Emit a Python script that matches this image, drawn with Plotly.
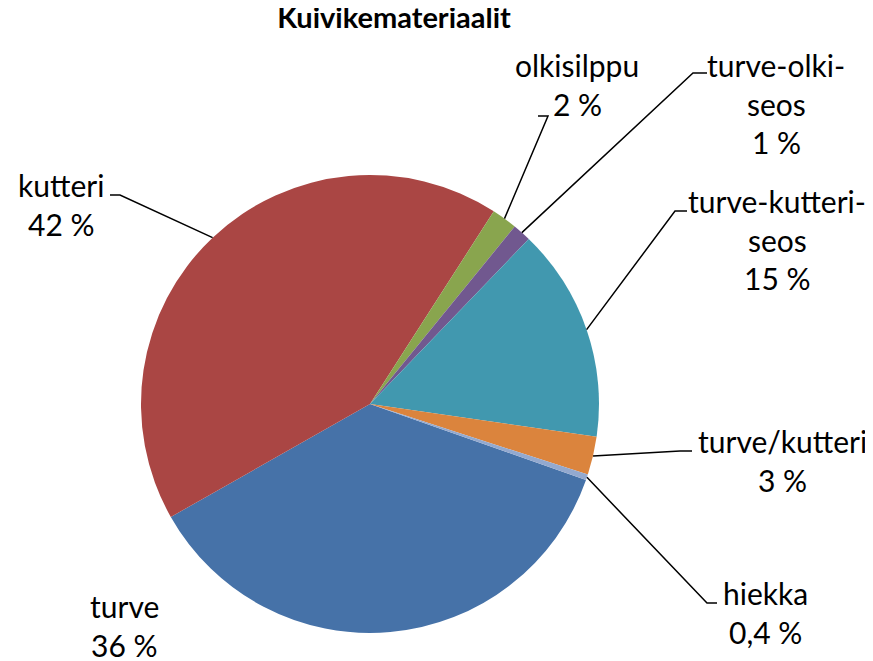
import numpy as np
import plotly.graph_objects as go

# the page body has an 8px margin, so the figure is a bit smaller and shifted
OFF = 8
W, H = 873 - OFF, 661 - OFF

# data (share of each bedding material, %)
labels = ['turve', 'kutteri', 'olkisilppu', 'turve-olki-seos',
          'turve-kutteri-seos', 'turve/kutteri', 'hiekka']
values = [36.4, 42.3, 1.8, 1.3, 15.1, 2.7, 0.4]
pct_text = ['36 %', '42 %', '2 %', '1 %', '15 %', '3 %', '0,4 %']
name_lines = [['turve'], ['kutteri'], ['olkisilppu'], ['turve-olki-', 'seos'],
              ['turve-kutteri-', 'seos'], ['turve/kutteri'], ['hiekka']]
colors = ['#4672A8', '#AA4644', '#89A54E', '#71588F', '#4198AF', '#DB843D', '#93A9CF']

# layout (pixels in the reference): pie centre / radius, label anchors, leader elbows
cx, cy, R = 370, 404, 229
rotation = 109.4
label_xy = [(125, 616), (61, 195), (577, 75), (776, 75), (777, 211), (782, 451), (765, 603)]
elbows = [None, (120, 110, 195), (548, 538, 116), (693, 707, 73),
          (675, 687, 211), (680, 692, 451), (707, 717, 603)]
FONT = 'Lato'
FS = 30
LINE_GAP = 38.5


def px(x):
    return (x - OFF) / W


def py(y):
    return 1 - (y - OFF) / H


fig = go.Figure(go.Pie(
    labels=labels, values=values, sort=False, direction='clockwise',
    rotation=rotation, marker=dict(colors=colors, line=dict(width=0)),
    textinfo='none', hoverinfo='label+percent', showlegend=False,
    domain=dict(x=[px(cx - R), px(cx + R)], y=[py(cy + R), py(cy - R)]),
))

annotations = []
shapes = []

total = sum(values)
cum = 0.0
for i, v in enumerate(values):
    ang = np.radians(rotation + (cum + v / 2) / total * 360)
    cum += v
    lines = name_lines[i] + [pct_text[i]]
    lx, ly = label_xy[i]
    for k, t in enumerate(lines):
        base = ly + k * LINE_GAP
        annotations.append(dict(text=t, x=px(lx), y=py(base - 0.33 * FS),
                                xref='paper', yref='paper', showarrow=False,
                                xanchor='center', yanchor='middle',
                                font=dict(family=FONT, size=FS, color='black')))
    if elbows[i] is not None:
        ex = cx + R * np.sin(ang)
        ey = cy - R * np.cos(ang)
        x_near, x_far, yy = elbows[i]
        shapes.append(dict(type='path', xref='paper', yref='paper',
                           path=f'M {px(ex)} {py(ey)} L {px(x_near)} {py(yy)} L {px(x_far)} {py(yy)}',
                           line=dict(color='black', width=1.5)))

fig.update_layout(
    title=dict(text='<b>Kuivikemateriaalit</b>', x=px(394), xref='paper', xanchor='center',
               y=1, yref='container', yanchor='top', pad=dict(t=0, b=0),
               font=dict(family=FONT, size=29, color='black')),
    width=W, height=H, margin=dict(l=0, r=0, t=0, b=0),
    paper_bgcolor='white', plot_bgcolor='white',
    annotations=annotations, shapes=shapes,
)

fig.write_html('out.html')
